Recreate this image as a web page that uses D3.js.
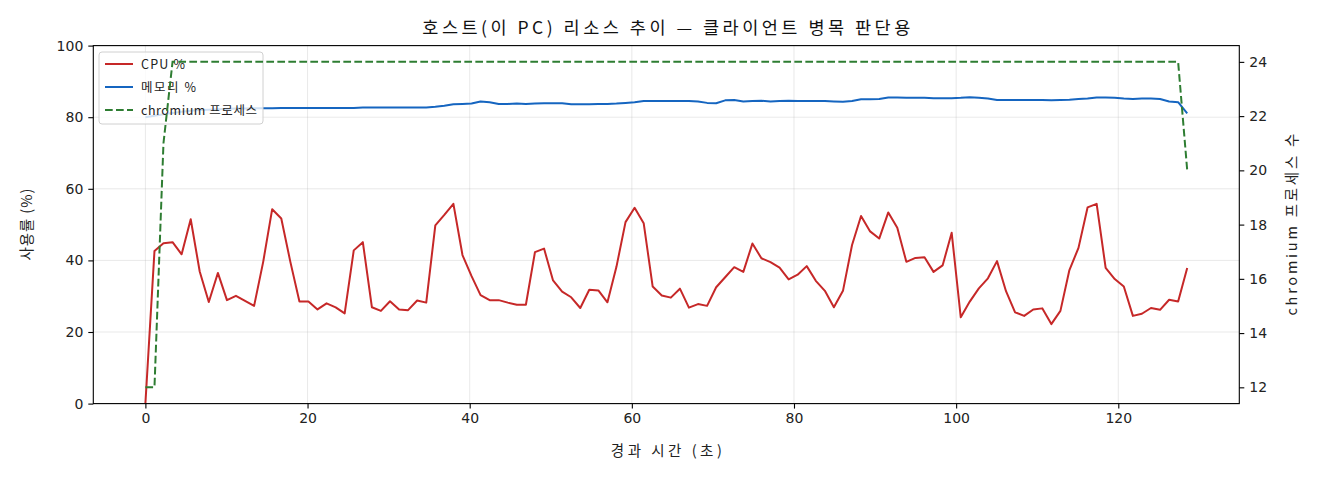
<!DOCTYPE html>
<html>
<head>
<meta charset="utf-8">
<script src="https://cdn.jsdelivr.net/npm/d3@7"></script>
<style>
  html, body { margin: 0; padding: 0; background: #fff; }
  svg { display: block; font-family: "Noto Sans CJK KR", "Noto Sans", sans-serif; }
</style>
</head>
<body>
<svg id="chart" width="1320" height="480"></svg>
<script>
// sample times (s)
const times = [
  0, 1.12, 2.23, 3.35, 4.47, 5.59, 6.70, 7.82, 8.94, 10.06,
  11.17, 12.29, 13.41, 14.53, 15.64, 16.76, 17.88, 19.00, 20.11, 21.23,
  22.35, 23.47, 24.58, 25.70, 26.82, 27.94, 29.05, 30.17, 31.29, 32.40,
  33.52, 34.64, 35.76, 36.87, 37.99, 39.11, 40.23, 41.34, 42.46, 43.58,
  44.70, 45.81, 46.93, 48.05, 49.17, 50.28, 51.40, 52.52, 53.64, 54.75,
  55.87, 56.99, 58.10, 59.22, 60.34, 61.46, 62.57, 63.69, 64.81, 65.93,
  67.04, 68.16, 69.28, 70.40, 71.51, 72.63, 73.75, 74.87, 75.98, 77.10,
  78.22, 79.34, 80.45, 81.57, 82.69, 83.81, 84.92, 86.04, 87.16, 88.27,
  89.39, 90.51, 91.63, 92.74, 93.86, 94.98, 96.10, 97.21, 98.33, 99.45,
  100.57, 101.68, 102.80, 103.92, 105.04, 106.15, 107.27, 108.39, 109.51, 110.62,
  111.74, 112.86, 113.97, 115.09, 116.21, 117.33, 118.44, 119.56, 120.68, 121.80,
  122.91, 124.03, 125.15, 126.27, 127.38, 128.50
];

const cpu = [
  0, 42.6, 44.8, 45.1, 41.7, 51.5, 36.9, 28.4, 36.5, 28.9,
  30.1, 28.7, 27.3, 39.6, 54.3, 51.7, 39.6, 28.5, 28.5, 26.3,
  28.0, 26.9, 25.2, 42.8, 45.1, 26.9, 25.9, 28.6, 26.3, 26.1,
  28.8, 28.2, 49.8, 52.7, 55.8, 41.5, 35.6, 30.3, 28.9, 28.9,
  28.2, 27.6, 27.6, 42.3, 43.3, 34.4, 31.3, 29.7, 26.7, 31.8,
  31.6, 28.3, 38.2, 50.7, 54.7, 50.4, 32.7, 30.2, 29.6, 32.1,
  26.8, 27.8, 27.3, 32.5, 35.3, 38.1, 36.8, 44.7, 40.6, 39.5,
  38.0, 34.7, 36.0, 38.4, 34.3, 31.5, 26.9, 31.5, 44.3, 52.4,
  48.1, 46.1, 53.4, 49.1, 39.6, 40.7, 40.9, 36.8, 38.6, 47.7,
  24.1, 28.5, 32.2, 35.0, 39.8, 31.4, 25.5, 24.5, 26.3, 26.6,
  22.2, 25.9, 37.3, 43.5, 54.8, 55.8, 37.9, 34.8, 32.7, 24.5,
  25.1, 26.7, 26.2, 29.0, 28.5, 37.9
];

const mem = [
  80.0, 80.4, 80.8, 81.2, 81.5, 81.8, 82.0, 82.1, 82.2, 82.3,
  82.4, 82.4, 82.5, 82.5, 82.5, 82.6, 82.6, 82.6, 82.6, 82.6,
  82.6, 82.6, 82.6, 82.6, 82.7, 82.7, 82.7, 82.7, 82.7, 82.7,
  82.7, 82.7, 82.9, 83.2, 83.6, 83.7, 83.8, 84.4, 84.2, 83.7,
  83.7, 83.8, 83.7, 83.8, 83.9, 83.9, 83.9, 83.6, 83.6, 83.6,
  83.7, 83.7, 83.8, 84.0, 84.2, 84.5, 84.5, 84.5, 84.5, 84.5,
  84.5, 84.4, 84.0, 83.9, 84.7, 84.8, 84.4, 84.5, 84.6, 84.4,
  84.5, 84.6, 84.5, 84.5, 84.5, 84.5, 84.4, 84.3, 84.5, 85.0,
  85.0, 85.1, 85.5, 85.5, 85.4, 85.4, 85.4, 85.3, 85.3, 85.3,
  85.4, 85.6, 85.4, 85.2, 84.8, 84.8, 84.8, 84.8, 84.8, 84.8,
  84.7, 84.8, 84.9, 85.1, 85.2, 85.5, 85.5, 85.4, 85.2, 85.1,
  85.2, 85.2, 85.1, 84.4, 84.2, 81.1
];

const procs = [
  12, 12, 21, 24, 24, 24, 24, 24, 24, 24,
  24, 24, 24, 24, 24, 24, 24, 24, 24, 24,
  24, 24, 24, 24, 24, 24, 24, 24, 24, 24,
  24, 24, 24, 24, 24, 24, 24, 24, 24, 24,
  24, 24, 24, 24, 24, 24, 24, 24, 24, 24,
  24, 24, 24, 24, 24, 24, 24, 24, 24, 24,
  24, 24, 24, 24, 24, 24, 24, 24, 24, 24,
  24, 24, 24, 24, 24, 24, 24, 24, 24, 24,
  24, 24, 24, 24, 24, 24, 24, 24, 24, 24,
  24, 24, 24, 24, 24, 24, 24, 24, 24, 24,
  24, 24, 24, 24, 24, 24, 24, 24, 24, 24,
  24, 24, 24, 24, 24, 20
];

const xTicks = [0, 20, 40, 60, 80, 100, 120];
const yLeftTicks = [0, 20, 40, 60, 80, 100];
const yRightTicks = [12, 14, 16, 18, 20, 22, 24];

const title = "호스트(이 PC) 리소스 추이 — 클라이언트 병목 판단용";
const xLabel = "경과 시간 (초)";
const yLeftLabel = "사용률 (%)";
const yRightLabel = "chromium 프로세스 수";
const seriesNames = ["CPU %", "메모리 %", "chromium 프로세스"];
const colors = ["#c62828", "#1565c0", "#2e7d32"];

const L = 93.3, R = 1239.3, T = 45.6, B = 403.6;

const svg = d3.select("#chart");

const x = d3.scaleLinear().domain([-6.425, 134.925]).range([L, R]);
const yL = d3.scaleLinear().domain([0, 100]).range([B, T]);
const yR = d3.scaleLinear().domain([11.4, 24.6]).range([B, T]);

const rows = times.map((t, i) => ({ t, cpu: cpu[i], mem: mem[i], p: procs[i] }));

// grid
const grid = svg.append("g").attr("stroke", "#b0b0b0").attr("stroke-opacity", 0.35).attr("stroke-width", 0.8);
grid.selectAll(".gx").data(xTicks).join("line")
  .attr("x1", d => x(d)).attr("x2", d => x(d)).attr("y1", T).attr("y2", B);
grid.selectAll(".gy").data(yLeftTicks).join("line")
  .attr("x1", L).attr("x2", R).attr("y1", d => yL(d)).attr("y2", d => yL(d));

const plot = svg.append("g");

const cpuLine = d3.line().x(d => x(d.t)).y(d => yL(d.cpu));
const memLine = d3.line().x(d => x(d.t)).y(d => yL(d.mem));
const procLine = d3.line().x(d => x(d.t)).y(d => yR(d.p));

plot.append("path").datum(rows)
  .attr("fill", "none").attr("stroke", colors[0]).attr("stroke-width", 2)
  .attr("stroke-linejoin", "round").attr("d", cpuLine);

plot.append("path").datum(rows)
  .attr("fill", "none").attr("stroke", colors[1]).attr("stroke-width", 2)
  .attr("stroke-linejoin", "round").attr("d", memLine);

// legend (belongs to the left axes, so it sits under the twin-axis line)
const legendWidths = [44, 55, 116];
const leg = svg.append("g").attr("transform", "translate(99,52)");
leg.append("rect")
  .attr("width", 164).attr("height", 72).attr("rx", 3)
  .attr("fill", "#fff").attr("fill-opacity", 0.8)
  .attr("stroke", "#d0d0d0").attr("stroke-width", 1);
seriesNames.forEach((name, i) => {
  const yy = 12 + i * 23;
  leg.append("line")
    .attr("x1", 6).attr("x2", 34).attr("y1", yy).attr("y2", yy)
    .attr("stroke", colors[i]).attr("stroke-width", 2)
    .attr("stroke-dasharray", i === 2 ? "7.7,3.3" : null);
  leg.append("text")
    .attr("x", 42).attr("y", yy + 4.5)
    .attr("font-size", 12.5).attr("fill", "#222")
    .attr("textLength", legendWidths[i]).attr("lengthAdjust", "spacing")
    .text(name);
});

// twin axis line (drawn on top)
svg.append("path").datum(rows)
  .attr("fill", "none").attr("stroke", colors[2]).attr("stroke-width", 2)
  .attr("stroke-dasharray", "7.7,3.3").attr("d", procLine);

// frame
svg.append("rect")
  .attr("x", L).attr("y", T).attr("width", R - L).attr("height", B - T)
  .attr("fill", "none").attr("stroke", "#000").attr("stroke-width", 1.1);

// axes
const styleAxis = g => {
  g.select(".domain").remove();
  g.selectAll(".tick line").attr("stroke", "#000").attr("stroke-width", 1.1);
  g.selectAll(".tick text").attr("font-size", 14).attr("fill", "#222")
    .attr("font-family", "'DejaVu Sans', sans-serif");
};

svg.append("g").attr("transform", `translate(0,${B})`)
  .call(d3.axisBottom(x).tickValues(xTicks).tickSize(5).tickPadding(4).tickFormat(d3.format("d")))
  .call(styleAxis);

svg.append("g").attr("transform", `translate(${L},0)`)
  .call(d3.axisLeft(yL).tickValues(yLeftTicks).tickSize(5).tickPadding(5).tickFormat(d3.format("d")))
  .call(styleAxis);

svg.append("g").attr("transform", `translate(${R},0)`)
  .call(d3.axisRight(yR).tickValues(yRightTicks).tickSize(5).tickPadding(5).tickFormat(d3.format("d")))
  .call(styleAxis);

// labels
svg.append("text")
  .attr("x", (L + R) / 2).attr("y", 34)
  .attr("text-anchor", "middle").attr("font-size", 17.5).attr("fill", "#111")
  .attr("textLength", 488).attr("lengthAdjust", "spacing")
  .text(title);

svg.append("text")
  .attr("x", (L + R) / 2).attr("y", 456)
  .attr("text-anchor", "middle").attr("font-size", 14.5).attr("fill", "#222")
  .attr("textLength", 111).attr("lengthAdjust", "spacing")
  .text(xLabel);

svg.append("text")
  .attr("transform", `translate(32,${(T + B) / 2}) rotate(-90)`)
  .attr("text-anchor", "middle").attr("font-size", 14.5).attr("fill", "#222")
  .attr("textLength", 72).attr("lengthAdjust", "spacing")
  .text(yLeftLabel);

svg.append("text")
  .attr("transform", `translate(1297,${(T + B) / 2}) rotate(-90)`)
  .attr("text-anchor", "middle").attr("font-size", 14.5).attr("fill", "#222")
  .attr("textLength", 182).attr("lengthAdjust", "spacing")
  .text(yRightLabel);
</script>
</body>
</html>
